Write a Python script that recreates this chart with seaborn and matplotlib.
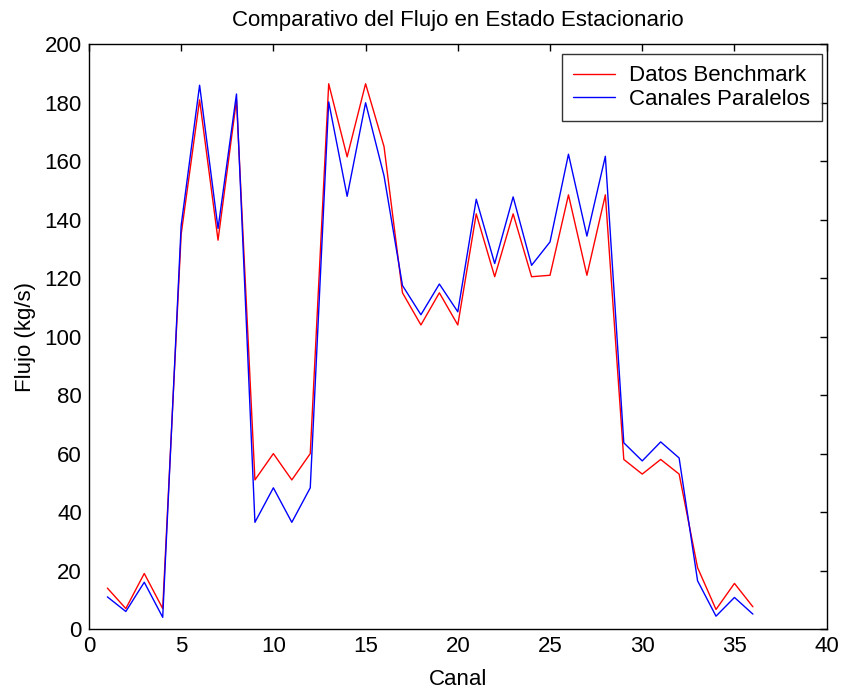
import numpy as np
import pandas as pd
import matplotlib
matplotlib.use("Agg")
import matplotlib.pyplot as plt
import seaborn as sns

# Datos (flujo por canal, kg/s)
canal = list(range(1, 37))
benchmark = [14, 7, 19, 7, 135, 181, 133, 181, 51, 60,
             51, 60, 186.5, 161.5, 186.5, 165, 115, 104, 115, 104,
             142, 120.5, 142, 120.5, 121, 148.5, 121, 148.5, 58, 53,
             58, 53, 21, 6.7, 15.6, 7.6]
paralelos = [11, 6, 16, 4, 138, 186, 137, 183, 36.5, 48.3,
             36.5, 48.3, 180.3, 148, 180, 155, 117.5, 107.5, 118, 108.5,
             147, 125, 147.8, 124.4, 132.4, 162.4, 134.4, 161.7, 63.7, 57.5,
             64, 58.5, 16.5, 4.4, 10.8, 5.1]
series = ["Datos Benchmark", "Canales Paralelos"]

df = pd.DataFrame({
    "Canal": canal * 2,
    "Flujo": benchmark + paralelos,
    "Serie": [series[0]] * len(canal) + [series[1]] * len(canal),
})

sns.set_style("white")
plt.rcParams['font.family'] = ['Liberation Sans', 'DejaVu Sans']
plt.rcParams['text.color'] = 'black'
plt.rcParams['axes.labelcolor'] = 'black'
fs = 16

fig = plt.figure(figsize=(8.47, 6.92), dpi=100)
ax = fig.add_axes([0.105, 0.091, 0.871, 0.845])

sns.lineplot(data=df, x="Canal", y="Flujo", hue="Serie",
             palette={series[0]: "#ff0000", series[1]: "#0000ff"},
             linewidth=1.0, ax=ax, sort=False)

ax.set_xlim(0, 40)
ax.set_ylim(0, 200)
ax.set_xticks(range(0, 41, 5))
ax.set_yticks(range(0, 201, 20))
ax.tick_params(direction="in", length=5, width=1, top=True, right=True,
               labelsize=fs, colors="black", pad=5)
for s in ax.spines.values():
    s.set_color("black")
    s.set_linewidth(1.0)

ax.set_title("Comparativo del Flujo en Estado Estacionario", fontsize=fs, pad=13,
             color="black")
ax.set_xlabel("Canal", fontsize=fs, labelpad=9, color="black")
ax.set_ylabel("Flujo (kg/s)", fontsize=fs, labelpad=6, color="black")

leg = ax.legend(loc="upper right", bbox_to_anchor=(0.993, 0.983),
                borderaxespad=0, fontsize=fs, frameon=True, fancybox=False,
                edgecolor="black", handlelength=1.9, handletextpad=0.65,
                labelspacing=0.12, borderpad=0.5)
leg.get_frame().set_linewidth(1.0)
for t in leg.get_texts():
    t.set_color("black")

fig.savefig("out.png", dpi=100, facecolor="white")
